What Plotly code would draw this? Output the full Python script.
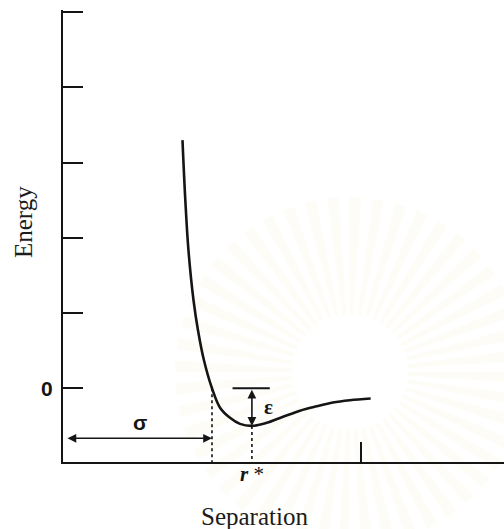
import numpy as np
import plotly.graph_objects as go

# Potential-energy curve (separation in units of sigma, energy in plot units)
sep = [0.802, 0.821, 0.842, 0.876, 0.906, 0.946, 1.0, 1.054, 1.121, 1.188,
       1.268, 1.367, 1.477, 1.591, 1.703, 1.812, 1.926, 2.065]
energy = [3.298, 2.50, 1.835, 1.170, 0.771, 0.372, 0.0, -0.258, -0.392, -0.473,
          -0.50, -0.46, -0.379, -0.298, -0.24, -0.19, -0.16, -0.137]

SIGMA = 1.0        # zero crossing
R_STAR = 1.268     # position of the minimum
EPS = 0.50         # well depth
X_TICKS = [2]
Y_TICKS = [0, 1, 2, 3, 4, 5]
Y_TICK_TEXT = ["0", "", "", "", "", ""]

X_RANGE = [0, 2.96]
Y_RANGE = [-0.98, 5.027]
SIGMA_ARROW_Y = -0.665

INK = "#151515"
TEXT = "#1c1c1c"

# plot-area geometry in pixels (used to place the emblem and outer labels)
PX_L, PX_T, PX_W, PX_H = 63, 10, 441, 452


def paper_x(px):
    return (px - PX_L) / PX_W


def paper_y(py):
    return (PX_T + PX_H - py) / PX_H


fig = go.Figure()

# faint sunburst emblem in the background
ecx, ecy = 350, 372
emblem_shapes = []
n_rays = 48
for k in range(n_rays):
    a0 = 2 * np.pi * k / n_rays
    a1 = a0 + 2 * np.pi / n_rays * 0.5
    r_in, r_out = 58, 175
    pts = [(r_in * np.cos(a0), r_in * np.sin(a0)),
           (r_out * np.cos(a0), r_out * np.sin(a0)),
           (r_out * np.cos(a1), r_out * np.sin(a1)),
           (r_in * np.cos(a1), r_in * np.sin(a1))]
    path = "M " + " L ".join(
        f"{paper_x(ecx + dx):.4f},{paper_y(ecy + dy):.4f}" for dx, dy in pts
    ) + " Z"
    emblem_shapes.append(dict(type="path", xref="paper", yref="paper", path=path,
                              fillcolor="rgba(240,220,150,0.09)", line=dict(width=0),
                              layer="below"))

# main curve
fig.add_trace(go.Scatter(x=sep, y=energy, mode="lines",
                         line=dict(color=INK, width=2.6, shape="spline", smoothing=1.0),
                         hoverinfo="skip", showlegend=False))

# dashed drop lines at sigma and r*
fig.add_trace(go.Scatter(x=[SIGMA, SIGMA], y=[0, Y_RANGE[0]], mode="lines",
                         line=dict(color=INK, width=1.6, dash="3px,3px"),
                         hoverinfo="skip", showlegend=False))
fig.add_trace(go.Scatter(x=[R_STAR, R_STAR], y=[-EPS, Y_RANGE[0]], mode="lines",
                         line=dict(color=INK, width=1.6, dash="3px,3px"),
                         hoverinfo="skip", showlegend=False))

# reference bar at zero energy above the well
fig.add_trace(go.Scatter(x=[R_STAR - 0.13, R_STAR + 0.12], y=[0, 0], mode="lines",
                         line=dict(color=INK, width=2),
                         hoverinfo="skip", showlegend=False))

annotations = [
    # sigma double arrow
    dict(x=SIGMA, y=SIGMA_ARROW_Y, ax=0.02, ay=SIGMA_ARROW_Y, xref="x", yref="y",
         axref="x", ayref="y", text="", showarrow=True, arrowhead=2, startarrowhead=2,
         arrowside="end+start", arrowsize=1.1, startarrowsize=1.1, arrowwidth=1.6,
         arrowcolor=INK),
    # epsilon double arrow
    dict(x=R_STAR, y=-EPS, ax=R_STAR, ay=0, xref="x", yref="y",
         axref="x", ayref="y", text="", showarrow=True, arrowhead=2, startarrowhead=2,
         arrowside="end+start", arrowsize=1.1, startarrowsize=1.1, arrowwidth=1.6,
         arrowcolor=INK),
    dict(x=0.517, y=-0.45, xref="x", yref="y", text="<b>σ</b>", showarrow=False,
         xanchor="center", yanchor="middle",
         font=dict(family="Liberation Sans", size=21, color=INK)),
    dict(x=1.376, y=-0.25, xref="x", yref="y", text="<b>ε</b>", showarrow=False,
         xanchor="center", yanchor="middle",
         font=dict(family="Liberation Serif", size=21, color=INK)),
    dict(x=paper_x(252), y=paper_y(474), xref="paper", yref="paper",
         xanchor="center", yanchor="middle",
         text="<b><i>r</i></b> *", showarrow=False,
         font=dict(family="Liberation Serif", size=21, color=INK)),
    dict(x=paper_x(254), y=paper_y(516), xref="paper", yref="paper",
         xanchor="center", yanchor="middle",
         text="Separation", showarrow=False,
         font=dict(family="Liberation Serif", size=25, color=TEXT)),
    dict(x=paper_x(24), y=paper_y(222), xref="paper", yref="paper",
         xanchor="center", yanchor="middle",
         text="Energy", textangle=-90, showarrow=False,
         font=dict(family="Liberation Serif", size=25, color=TEXT)),
]

fig.update_layout(
    width=504, height=529,
    margin=dict(l=PX_L, r=504 - PX_L - PX_W, t=PX_T, b=529 - PX_T - PX_H),
    paper_bgcolor="white", plot_bgcolor="rgba(0,0,0,0)",
    shapes=emblem_shapes,
    annotations=annotations,
    showlegend=False,
)
fig.update_xaxes(range=X_RANGE, showline=True, linecolor=INK, linewidth=2,
                 showgrid=False, zeroline=False, tickvals=X_TICKS,
                 ticks="inside", ticklen=20, tickwidth=2, tickcolor=INK,
                 showticklabels=False, fixedrange=True)
fig.update_yaxes(range=Y_RANGE, showline=True, linecolor=INK, linewidth=2,
                 showgrid=False, zeroline=False, tickvals=Y_TICKS, ticktext=Y_TICK_TEXT,
                 ticks="inside", ticklen=20, tickwidth=2, tickcolor=INK,
                 tickfont=dict(family="Liberation Sans", size=21, color=INK,
                               weight="bold"),
                 ticklabelstandoff=4, fixedrange=True)

fig.write_html("out.html")
